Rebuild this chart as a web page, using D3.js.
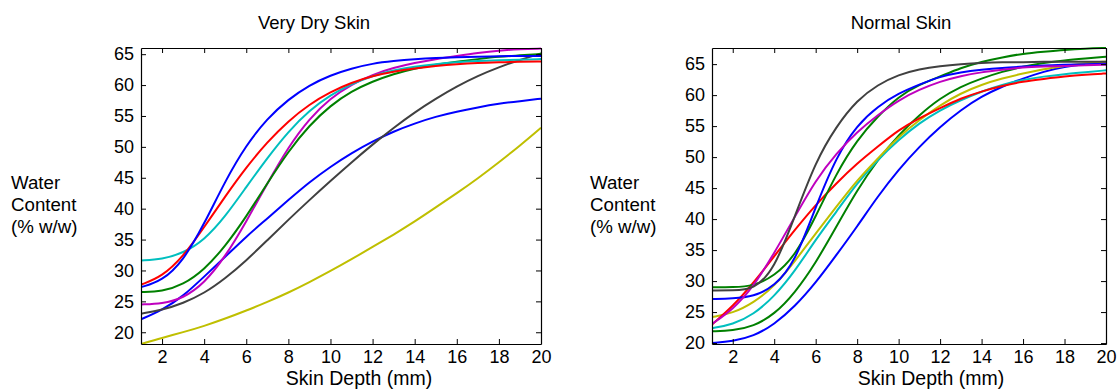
<!DOCTYPE html>
<html>
<head>
<meta charset="utf-8">
<script src="https://cdn.jsdelivr.net/npm/d3@7"></script>
<style>
  html, body { margin: 0; padding: 0; background: #fff; }
  svg text { font-family: "Liberation Sans", Arial, sans-serif; fill: #000; }
</style>
</head>
<body>
<svg id="chart" width="1120" height="389"></svg>
<script>
// ---- data ----
const depths = [1,2,3,4,5,6,7,8,9,10,11,12,13,14,15,16,17,18,19,20];
const xTicks = [2,4,6,8,10,12,14,16,18,20];
const yTicks = [20,25,30,35,40,45,50,55,60,65];

// Very Dry Skin
const dryBlueA  = [27.3,28.3,31.5,37.5,44.5,50.3,54.6,57.7,60.0,61.6,62.7,63.5,63.9,64.2,64.4,64.5,64.6,64.7,64.7,64.7];
const dryRed    = [27.7,29.0,32.2,37.0,42.0,46.7,50.8,54.2,56.9,58.9,60.4,61.5,62.2,62.7,63.1,63.4,63.6,63.7,63.8,63.8];
const dryCyan   = [31.6,31.8,32.8,34.9,38.7,43.5,48.2,52.5,55.9,58.4,60.2,61.5,62.4,63.0,63.4,63.7,63.9,64.0,64.1,64.2];
const dryGreen  = [26.5,26.6,27.7,30.1,33.9,38.7,44.1,49.3,53.5,56.7,59.0,60.6,61.8,62.7,63.3,63.8,64.2,64.6,64.8,65.05];
const dryMagenta= [24.5,24.6,25.5,27.9,32.2,37.9,44.1,50.0,54.6,57.9,60.1,61.7,62.8,63.6,64.2,64.7,65.2,65.6,65.8,65.9];
const dryGray   = [23.0,23.6,24.7,26.3,28.7,31.6,34.9,38.2,41.4,44.5,47.5,50.4,53.1,55.6,57.8,59.8,61.5,62.9,64.1,65.1];
const dryBlueB  = [22.1,23.6,25.8,29.0,32.2,35.5,38.4,41.4,44.3,46.8,49.0,50.9,52.5,53.8,54.9,55.7,56.4,57.0,57.4,57.8];
const dryYellow = [18.1,19.1,20.0,21.0,22.2,23.5,24.9,26.4,28.1,29.9,31.8,33.8,35.8,37.9,40.2,42.5,44.9,47.5,50.2,53.1];

// Normal Skin
const nGray     = [28.5,28.5,28.6,31.8,40.5,49.3,55.0,59.2,61.7,63.3,64.2,64.7,65.0,65.2,65.3,65.3,65.4,65.4,65.4,65.4];
const nMagenta  = [23.1,25.4,29.1,34.5,40.4,46.3,50.6,54.1,56.8,59.2,60.9,62.2,63.1,63.7,64.1,64.5,64.6,64.7,64.8,64.9];
const nBlueA    = [27.1,27.2,27.5,29.1,33.0,42.0,50.1,55.2,58.2,60.3,61.7,63.0,63.7,64.1,64.4,64.6,64.8,64.9,65.0,65.0];
const nGreenA   = [29.0,29.0,29.2,30.8,34.0,40.4,47.4,52.8,56.6,59.8,61.7,63.0,64.4,65.4,66.1,66.7,67.0,67.3,67.5,67.6];
const nRed      = [23.0,25.9,29.7,34.0,38.3,42.3,45.8,49.0,51.7,54.4,56.3,57.9,59.5,60.6,61.5,62.2,62.6,63.0,63.3,63.5];
const nYellow   = [24.2,24.8,26.5,29.1,33.2,37.7,42.0,46.3,49.8,53.3,56.0,58.4,60.3,61.7,62.7,63.5,64.2,64.7,65.2,65.4];
const nCyan     = [22.4,23.0,24.6,27.5,31.6,36.7,41.2,45.8,49.6,52.8,55.5,57.6,59.2,60.6,61.7,62.5,63.0,63.4,63.7,64.0];
const nGreenB   = [21.9,22.0,22.7,24.6,28.1,32.9,38.8,44.7,49.6,53.6,56.8,59.5,61.4,62.7,63.8,64.6,65.2,65.6,65.9,66.2];
const nBlueB    = [20.0,20.3,21.1,23.0,25.9,29.7,34.2,38.8,43.7,48.0,51.7,54.9,57.6,59.8,61.4,62.7,63.8,64.6,65.0,65.2];

const BLUE = "#0000ff", RED = "#ff0000", CYAN = "#00bfbf", GREEN = "#008000",
      MAGENTA = "#bf00bf", GRAY = "#404040", YELLOW = "#bfbf00";

const panels = [
  {
    title: "Very Dry Skin", titleX: 314,
    left: 141, right: 541, top: 48, bottom: 344,
    yDomain: [18.1, 66.0],
    ylabelX: 11, xlabelX: 359,
    series: [
      {v: dryYellow, c: YELLOW}, {v: dryBlueB, c: BLUE}, {v: dryGray, c: GRAY},
      {v: dryMagenta, c: MAGENTA}, {v: dryGreen, c: GREEN}, {v: dryCyan, c: CYAN},
      {v: dryRed, c: RED}, {v: dryBlueA, c: BLUE}
    ]
  },
  {
    title: "Normal Skin", titleX: 901,
    left: 712, right: 1106, top: 48, bottom: 344,
    yDomain: [19.85, 67.6],
    ylabelX: 590, xlabelX: 931,
    series: [
      {v: nBlueB, c: BLUE}, {v: nGreenB, c: GREEN}, {v: nCyan, c: CYAN},
      {v: nYellow, c: YELLOW}, {v: nRed, c: RED}, {v: nGreenA, c: GREEN},
      {v: nBlueA, c: BLUE}, {v: nMagenta, c: MAGENTA}, {v: nGray, c: GRAY}
    ]
  }
];

const svg = d3.select("#chart");

panels.forEach((p, i) => {
  const x = d3.scaleLinear().domain([1, 20]).range([p.left, p.right]);
  const y = d3.scaleLinear().domain(p.yDomain).range([p.bottom, p.top]);
  const g = svg.append("g");

  const clipId = "clip" + i;
  svg.append("clipPath").attr("id", clipId).append("rect")
    .attr("x", p.left).attr("y", p.top - 1)
    .attr("width", p.right - p.left).attr("height", p.bottom - p.top + 1);

  const line = d3.line().x((d, j) => x(depths[j])).y(d => y(d)).curve(d3.curveBasis);
  g.append("g").attr("clip-path", `url(#${clipId})`)
    .selectAll("path").data(p.series).join("path")
    .attr("d", s => line(s.v))
    .attr("fill", "none").attr("stroke", s => s.c).attr("stroke-width", 2)
    .attr("stroke-linejoin", "round");

  // axes
  const styleAxis = sel => {
    sel.selectAll(".domain").attr("stroke", "#000").attr("stroke-width", 1.2);
    sel.selectAll(".tick line").attr("stroke", "#000");
    sel.selectAll(".tick text").attr("font-size", 18).attr("font-family", "Liberation Sans, Arial, sans-serif").attr("fill", "#000");
  };
  g.append("g").attr("transform", `translate(0,${p.bottom})`)
    .call(d3.axisBottom(x).tickValues(xTicks).tickSizeInner(-5).tickSizeOuter(0).tickPadding(6))
    .call(styleAxis);
  g.append("g").attr("transform", `translate(0,${p.top})`)
    .call(d3.axisTop(x).tickValues(xTicks).tickSizeInner(-5).tickSizeOuter(0).tickFormat(""))
    .call(styleAxis);
  g.append("g").attr("transform", `translate(${p.left},0)`)
    .call(d3.axisLeft(y).tickValues(yTicks).tickSizeInner(-5).tickSizeOuter(0).tickPadding(7))
    .call(styleAxis);
  g.append("g").attr("transform", `translate(${p.right},0)`)
    .call(d3.axisRight(y).tickValues(yTicks).tickSizeInner(-5).tickSizeOuter(0).tickFormat(""))
    .call(styleAxis);

  // title
  g.append("text").attr("x", p.titleX).attr("y", 29).attr("text-anchor", "middle")
    .attr("font-size", 18.5).text(p.title);
  // x label
  g.append("text").attr("x", p.xlabelX).attr("y", 385).attr("text-anchor", "middle")
    .attr("font-size", 19.5).text("Skin Depth (mm)");
  // y label
  const yl = g.append("text").attr("font-size", 18.7);
  ["Water", "Content", "(% w/w)"].forEach((t, k) => {
    yl.append("tspan").attr("x", p.ylabelX).attr("y", 189 + k * 22).text(t);
  });
});
</script>
</body>
</html>
